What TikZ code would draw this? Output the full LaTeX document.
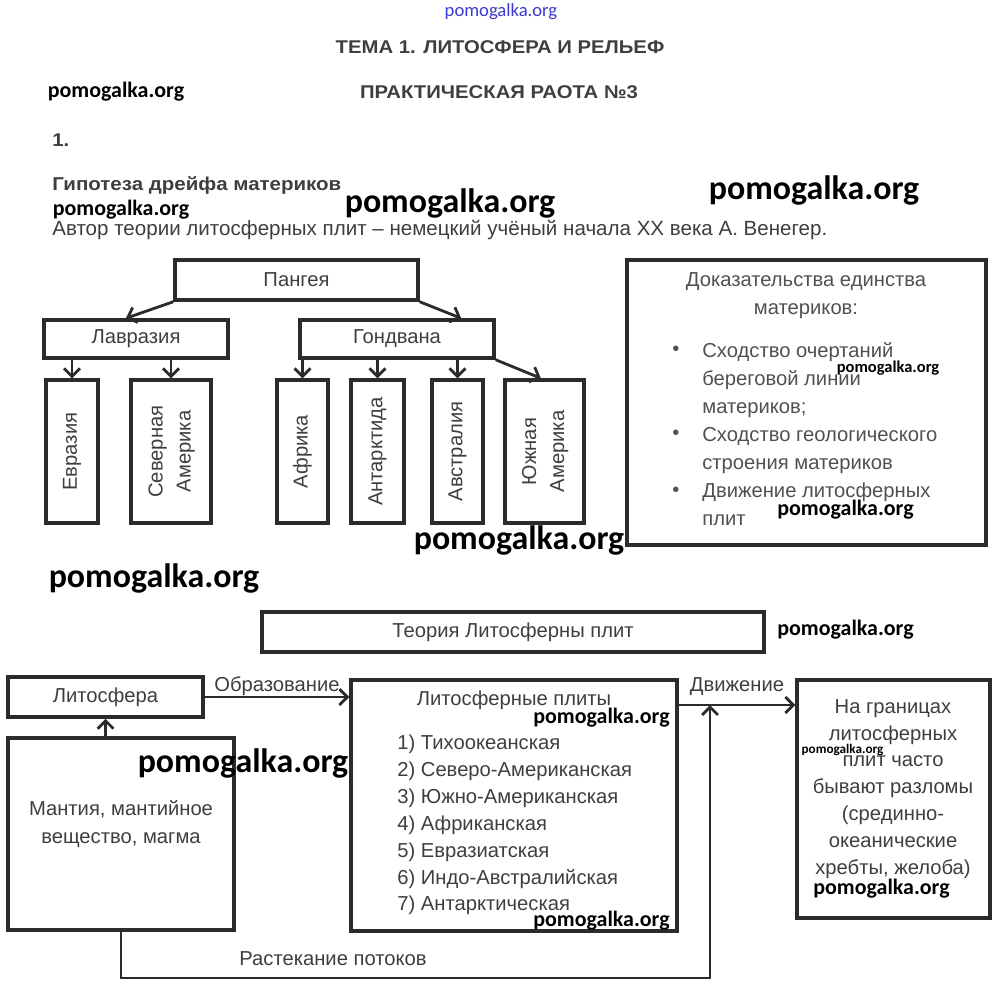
\documentclass[tikz,border=0pt]{standalone}
\usepackage{fontspec}
\usepackage{graphicx}
\setmainfont{Liberation Sans}
\newfontfamily\hdfont[FakeStretch=1.1]{Liberation Sans}
\newfontfamily\wmfont{Carlito}
\usetikzlibrary{calc}
\usetikzlibrary{arrows.meta}
\usetikzlibrary{positioning}
\definecolor{linegray}{HTML}{2B2B2B}
\definecolor{textgray}{HTML}{3E3E3E}
\definecolor{softgray}{HTML}{505050}
\definecolor{wmblue}{HTML}{3A3AD0}
\newcommand\bodyfont{\fontsize{11.5}{15.9}\selectfont}
\newcommand\twoline[2]{\begin{tabular}{@{}c@{}}#1\\#2\end{tabular}}

\begin{document}
\begin{tikzpicture}[x=0.02cm, y=-0.02cm,
  box/.style={draw=linegray, line width=2pt, inner sep=0pt, text=textgray, font=\bodyfont},
  plain/.style={inner sep=0pt, text=textgray, font=\bodyfont},
  heading/.style={inner sep=0pt, text=textgray, font=\hdfont\bfseries\fontsize{10.5}{12}\selectfont},
  wm/.style={inner sep=0pt, text=black, font=\wmfont\bfseries\fontsize{#1}{#1}\selectfont},
  arr/.style={draw=linegray, line width=1.6pt, -{Straight Barb[length=4.5pt, width=9pt]}}]
  \useasboundingbox (0,0) rectangle (1000,992);
  % заголовки
  \node[font=\wmfont\fontsize{10.6}{10.6}\selectfont, text=wmblue, inner sep=0pt] (wmtop) at (501,12) {pomogalka.org};
  \node[heading] (tema) at (500,47) {ТЕМА 1. ЛИТОСФЕРА И РЕЛЬЕФ};
  \node[heading] (prakt) at (499,92) {ПРАКТИЧЕСКАЯ РАОТА №3};
  \node[heading, anchor=west] (num) at (52,140) {1.};
  \node[heading, anchor=west, font=\hdfont\bfseries\fontsize{10.6}{12}\selectfont] (gip) at (52,185) {Гипотеза дрейфа материков};
  \node[plain, anchor=west, font=\fontsize{11.7}{13}\selectfont] (avtor) at (52,230) {Автор теории литосферных плит – немецкий учёный начала XX века А. Венегер.};
  % дерево материков
  \node[box, minimum width=4.86cm, minimum height=0.8cm] (pangea) at (296.5,280) {Пангея};
  \node[box, minimum width=3.68cm, minimum height=0.76cm] (lavr) at (136,339) {Лавразия};
  \node[box, minimum width=3.88cm, minimum height=0.76cm] (gond) at (397,339) {Гондвана};
  \foreach \nm/\cx/\w/\txt in {evr/72/1.04/{Евразия}, sevam/171/1.6/{\twoline{Северная}{Америка}},
    afr/302.5/1.02/{Африка}, antr/377.5/1.06/{Антарктида}, avst/457.5/1.02/{Австралия},
    yuzham/544.5/1.58/{\twoline{Южная}{Америка}}}
  {
    \node[box, minimum width=\w cm, minimum height=2.86cm] (\nm) at (\cx,451.5) {\rotatebox{90}{\txt}};
  }
  % стрелки дерева
  \draw[arr] (pangea.south west) -- ($(lavr.north west)!0.446!(lavr.north east)$);
  \draw[arr] (pangea.south east) -- ($(gond.north west)!0.825!(gond.north east)$);
  \draw[arr] (gond.south east) -- ($(yuzham.north west)!0.456!(yuzham.north east)$);
  \foreach \t in {evr,sevam}
    \draw[arr] (lavr.south -| \t.north) -- (\t.north);
  \foreach \t in {afr,antr,avst}
    \draw[arr] (gond.south -| \t.north) -- (\t.north);
  % доказательства
  \node[box, minimum width=7.18cm, minimum height=5.7cm] (dokaz) at (806.5,402.5) {};
  \node[plain, align=center, text=softgray] (dokT) at (806,296) {Доказательства единства\\материков:};
  \node[plain, align=left, anchor=west, text=softgray] (dokL) at (702,434)
    {Сходство очертаний\\береговой линии\\материков;\\Сходство геологического\\строения материков\\Движение литосферных\\плит};
  \foreach \by [count=\i] in {351,435,492}
    \node[plain, text=softgray] (bul\i) at (676,\by) {•};
  % теория литосферных плит
  \node[box, minimum width=10.04cm, minimum height=0.8cm] (teoria) at (513,632) {Теория Литосферны плит};
  \node[box, minimum width=3.9cm, minimum height=0.8cm] (lito) at (105.5,697) {Литосфера};
  \node[box, minimum width=4.52cm, minimum height=3.84cm] (mantia) at (121,834) {};
  \node[plain, align=center] (mantiaT) at (121,824) {Мантия, мантийное\\вещество, магма};
  \node[box, minimum width=6.52cm, minimum height=5.02cm] (plity) at (514,805.5) {};
  \node[plain] (plityT) at (514,700) {Литосферные плиты};
  \node[plain, align=left, anchor=west, font=\fontsize{11.5}{15.3}\selectfont] (plityL) at (397,825)
    {1) Тихоокеанская\\2) Северо-Американская\\3) Южно-Американская\\4) Африканская\\5) Евразиатская\\6) Индо-Австралийская\\7) Антарктическая};
  \node[box, minimum width=3.86cm, minimum height=4.76cm] (granic) at (893.5,799) {};
  \node[plain, align=center, font=\fontsize{11.5}{15.3}\selectfont] (granicT) at (893,789)
    {На границах\\литосферных\\плит часто\\бывают разломы\\(срединно-\\океанические\\хребты, желоба)};
  % связи
  \coordinate (mv) at (710,705);
  \coordinate (rb) at (710,978);
  \draw[arr] (mantia.north -| lito.south) -- (lito.south);
  \draw[arr] (lito.east) -- (lito.east -| plity.west) node[midway, above=0pt, plain] (obr) {Образование};
  \draw[arr] (plity.east |- mv) -- (granic.west |- mv) node[midway, above=4.5pt, plain] (dvi) {Движение};
  \draw[arr] (mantia.south) |- node[pos=0.68, above=6pt, plain] (rast) {Растекание потоков} (rb) -- (mv);
  % водяные знаки
  \foreach \wx/\wy/\ws [count=\i] in {450/203/19.3, 814/190/19.3, 519/540/19.3, 154/578/19.3, 243/763/19.3,
    116/92/12.5, 121/210/12.5, 845.5/510/12.5, 845.5/630/12.5, 601.5/718/12.5, 881.5/889/12.5,
    601.5/921/12.5, 888/368/9.4, 842.5/750/7.5}
    \node[wm=\ws] (wm\i) at (\wx,\wy) {pomogalka.org};
\end{tikzpicture}
\end{document}
